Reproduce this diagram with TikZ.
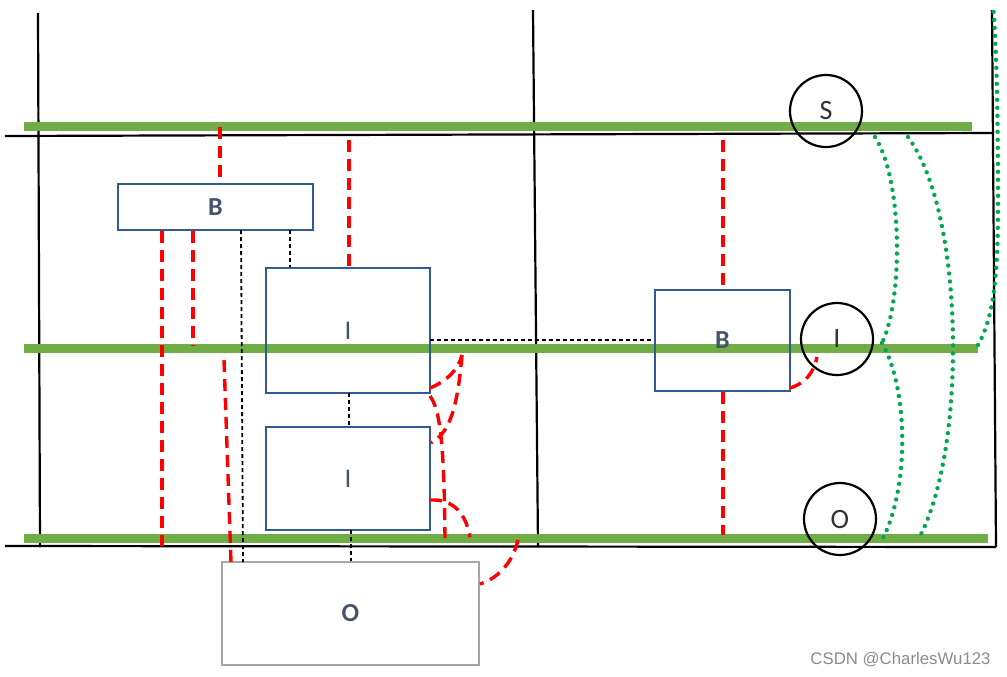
\documentclass[tikz,border=0pt]{standalone}
\usepackage{fontspec}
\setmainfont{Carlito}
\newfontfamily\wmfont{Liberation Sans}
\usetikzlibrary{calc}
\definecolor{gline}{RGB}{112,173,71}
\definecolor{bluebox}{RGB}{52,90,150}
\definecolor{lbl}{RGB}{68,84,106}
\definecolor{gdot}{RGB}{0,168,80}
\definecolor{graybox}{RGB}{166,166,166}
\begin{document}
\begin{tikzpicture}[x=0.5pt,y=-0.5pt,
  frame/.style={line width=1.1pt, black},
  rail/.style={line width=4.5pt, gline},
  box/.style={draw=bluebox, line width=1pt, rectangle, inner sep=0pt, text=lbl, font=\bfseries\fontsize{13}{13}\selectfont},
  ibox/.style={box, font=\fontsize{13.5}{13.5}\selectfont},
  obox/.style={box, draw=graybox, line width=1.2pt},
  ring/.style={circle, draw=black, line width=1.1pt, minimum size=36pt, inner sep=0pt, text=black!80, font=\fontsize{14}{14}\selectfont},
  reddash/.style={red, line width=1.7pt, dash pattern=on 6pt off 3.5pt},
  blackdash/.style={black, line width=0.9pt, dash pattern=on 2pt off 1.5pt},
  greendot/.style={gdot, line width=2.2pt, line cap=round, dash pattern=on 0pt off 4pt},
  wm/.style={text=black!45, font=\wmfont\fontsize{8.4}{8.4}\selectfont, inner sep=0pt}
]
\useasboundingbox (0,0) rectangle (1007,676);

% frame lines
\coordinate (vl1) at (38,13);   \coordinate (vl2) at (40,547);
\coordinate (vm1) at (533,10);  \coordinate (vm2) at (538,547);
\coordinate (vr1) at (992,10);  \coordinate (vr2) at (996,547);
\coordinate (ht1) at (5,136);   \coordinate (ht2) at (992,133);
\coordinate (hb1) at (5,546);   \coordinate (hb2) at (996,547);
\draw[frame] (vl1) -- (vl2);
\draw[frame] (vm1) -- (vm2);
\draw[frame] (vr1) -- (vr2);
\draw[frame] (ht1) -- (ht2);
\draw[frame] (hb1) -- (hb2);

% green rails
\coordinate (gs1) at (24,126); \coordinate (gs2) at (972,126);
\coordinate (gi1) at (24,348); \coordinate (gi2) at (978,348);
\coordinate (go1) at (24,538); \coordinate (go2) at (988,538);
\draw[rail] (gs1) -- (gs2);
\draw[rail] (gi1) -- (gi2);
\draw[rail] (go1) -- (go2);

% boxes
\node[box, minimum width=97.5pt, minimum height=23pt] (btop) at (215.5,207) {B};
\node[ibox, minimum width=82pt, minimum height=62.5pt] (iup) at (348,330.5) {I};
\node[ibox, minimum width=82pt, minimum height=51.5pt] (ilow) at (348,478.5) {I};
\node[box, minimum width=67.5pt, minimum height=50.5pt] (bright) at (722.5,340.5) {B};
\node[obox, minimum width=128.5pt, minimum height=51.5pt] (obox) at (350.5,613.5) {O};

% circles
\node[ring] (cs) at (826,111) {S};
\node[ring] (ci) at (837,339) {I};
\node[ring] (co) at (840,519) {O};

% red dashed straight connectors
\coordinate (r1) at (220,127);
\draw[reddash] (r1) -- (r1 |- btop.north);
\coordinate (r2) at (349,140);
\draw[reddash] (r2) -- (r2 |- iup.north);
\coordinate (r3) at (162,546);
\draw[reddash] (r3 |- btop.south) -- (r3);
\coordinate (r4) at (193,346);
\draw[reddash] (r4 |- btop.south) -- (r4);
\coordinate (r5) at (224,360);
\coordinate (r5b) at (231,562);
\draw[reddash] (r5) -- (r5b);
\coordinate (r6) at (723,140);
\draw[reddash] (r6) -- (r6 |- bright.north);
\coordinate (r7) at (723,535);
\draw[reddash] (r7 |- bright.south) -- (r7);

% red dashed curves
\coordinate (ca1) at (430,388);
\coordinate (ca2) at (462,355);
\draw[reddash] (ca1) .. controls (447,381) and (458,370) .. (ca2);
\coordinate (cb2) at (431,443);
\draw[reddash] (ca2) .. controls (458,400) and (452,432) .. (cb2);
\coordinate (cc1) at (430,396);
\coordinate (cc2) at (445,538);
\draw[reddash] (cc1) .. controls (440,410) and (444,440) .. (cc2);
\coordinate (cd1) at (430,500);
\coordinate (cd2) at (470,537);
\draw[reddash] (cd1) .. controls (455,499) and (466,515) .. (cd2);
\coordinate (ce1) at (518,540);
\coordinate (ce2) at (480,584);
\draw[reddash] (ce1) .. controls (512,565) and (496,579) .. (ce2);
\coordinate (cf1) at (790,388);
\coordinate (cf2) at (817,357);
\draw[reddash] (cf1) .. controls (806,383) and (814,372) .. (cf2);

% black dashed connectors
\coordinate (k1) at (241,230);
\coordinate (k1b) at (243,562);
\draw[blackdash] (k1) -- (k1b);
\coordinate (k2) at (290,230);
\draw[blackdash] (k2) -- (k2 |- iup.north);
\coordinate (k3) at (349,393);
\draw[blackdash] (k3) -- (k3 |- ilow.north);
\coordinate (k4) at (351,530);
\draw[blackdash] (k4) -- (k4 |- obox.north);
\coordinate (k5) at (430,340);
\draw[blackdash] (k5) -- (k5 -| bright.west);

% green dotted curves
\coordinate (d1) at (875,137);
\coordinate (d2) at (882,343);
\coordinate (d3) at (882,540);
\draw[greendot] (d1) .. controls (903,180) and (903,300) .. (d2);
\draw[greendot] (d2) .. controls (909,390) and (909,490) .. (d3);
\coordinate (e1) at (908,137);
\coordinate (e2) at (953,347);
\coordinate (e3) at (918,540);
\draw[greendot] (e1) .. controls (943,185) and (953,280) .. (e2) .. controls (953,430) and (940,500) .. (e3);
\coordinate (f1) at (978,345);
\coordinate (f2) at (998,200);
\coordinate (f3) at (993,5);
\draw[greendot] (f1) .. controls (995,315) and (998,270) .. (f2) .. controls (998,100) and (996,40) .. (f3);

% watermark
\node[wm] (wmk) at (900.5,660) {CSDN @CharlesWu123};
\end{tikzpicture}
\end{document}
